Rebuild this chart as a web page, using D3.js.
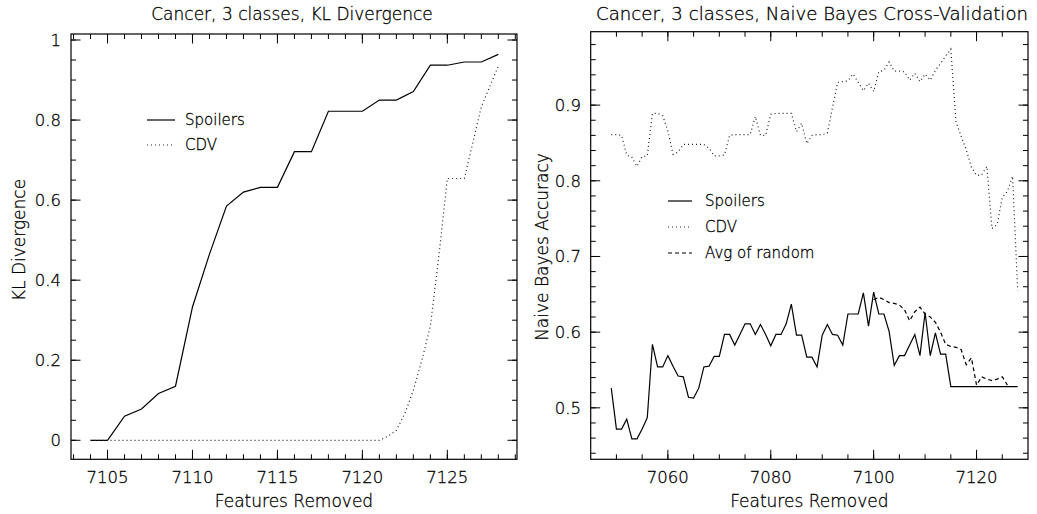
<!DOCTYPE html>
<html>
<head>
<meta charset="utf-8">
<script src="https://cdn.jsdelivr.net/npm/d3@7"></script>
<style>
  html, body { margin: 0; padding: 0; background: #fff; }
  svg { display: block; font-family: "DejaVu Sans", sans-serif; font-weight: 200; }
  svg text { fill: #000; stroke: #000; stroke-width: 0.3px; }
</style>
</head>
<body>
<svg id="chart" width="1037" height="514"></svg>
<script>
// ---------------- Data: left panel (KL Divergence) ----------------
const klSpoilersX = [7104,7105,7106,7107,7108,7109,7110,7111,7112,7113,7114,7115,7116,7117,7118,7119,7120,7121,7122,7123,7124,7125,7126,7127,7128];
const klSpoilersY = [0,0,0.06,0.078,0.117,0.135,0.333,0.465,0.585,0.62,0.632,0.632,0.721,0.721,0.822,0.822,0.822,0.85,0.85,0.871,0.937,0.937,0.945,0.945,0.964];
const klCdvX = [7104,7105,7106,7107,7108,7109,7110,7111,7112,7113,7114,7115,7116,7117,7118,7119,7120,7121,7121.5,7122,7122.5,7123,7123.5,7124,7124.5,7125,7126,7127,7128];
const klCdvY = [0,0,0,0,0,0,0,0,0,0,0,0,0,0,0,0,0,0,0.01,0.025,0.067,0.125,0.2,0.285,0.46,0.654,0.654,0.833,0.935];

// ---------------- Data: right panel (Naive Bayes) ----------------
const nbX = d3.range(7049, 7129); // 7049 .. 7128, one per feature count
const nbSpoilers = [0.526,0.472,0.472,0.485,0.459,0.459,0.472,0.487,0.584,0.554,
  0.554,0.569,0.555,0.542,0.541,0.514,0.513,0.526,0.554,0.555,
  0.568,0.568,0.597,0.597,0.583,0.597,0.611,0.611,0.597,0.61,
  0.597,0.582,0.597,0.597,0.611,0.637,0.596,0.596,0.567,0.567,
  0.554,0.596,0.61,0.597,0.596,0.583,0.624,0.624,0.624,0.652,
  0.608,0.653,0.624,0.624,0.601,0.556,0.569,0.569,0.583,0.597,
  0.569,0.626,0.569,0.599,0.571,0.571,0.528,0.528,0.528,0.528,
  0.528,0.528,0.528,0.528,0.528,0.528,0.528,0.528,0.528,0.528];
const nbCdv = [0.861,0.861,0.860,0.834,0.831,0.819,0.832,0.833,0.889,0.889,
  0.886,0.866,0.835,0.838,0.848,0.848,0.848,0.848,0.848,0.843,
  0.833,0.833,0.834,0.860,0.861,0.861,0.861,0.861,0.885,0.860,
  0.860,0.888,0.889,0.889,0.889,0.889,0.865,0.876,0.849,0.860,
  0.861,0.861,0.863,0.897,0.930,0.931,0.932,0.941,0.930,0.919,
  0.929,0.918,0.944,0.946,0.957,0.945,0.945,0.944,0.933,0.942,
  0.931,0.941,0.933,0.946,0.955,0.965,0.974,0.878,0.859,0.841,
  0.818,0.807,0.808,0.819,0.737,0.742,0.778,0.786,0.806,0.655];
const nbRandomX = d3.range(7100, 7127); // 7100 .. 7126
const nbRandom = [0.643,0.646,0.643,0.639,0.638,0.636,0.6295,0.615,0.627,0.633,
  0.624,0.620,0.613,0.600,0.584,0.581,0.580,0.577,0.557,0.566,
  0.530,0.541,0.538,0.536,0.538,0.541,0.530];

// ---------------- Ticks ----------------
const klXMajor = [7105,7110,7115,7120,7125];
const klXMinor = d3.range(7103, 7130);
const klYMajor = [0,0.2,0.4,0.6,0.8,1];
const klYMinor = d3.range(0, 21).map(i => i * 0.05);
const nbXMajor = [7060,7080,7100,7120];
const nbXMinor = d3.range(7050, 7130, 5);
const nbYMajor = [0.5,0.6,0.7,0.8,0.9];
const nbYMinor = d3.range(22, 50).map(i => i * 0.02);

// ---------------- Text ----------------
const titles = ["Cancer, 3 classes, KL Divergence", "Cancer, 3 classes, Naive Bayes Cross-Validation"];
const yTitles = ["KL Divergence", "Naive Bayes Accuracy"];
const xTitle = "Features Removed";
const legendLeft = ["Spoilers", "CDV"];
const legendRight = ["Spoilers", "CDV", "Avg of random"];

const svg = d3.select("#chart");
svg.append("rect").attr("width", 1037).attr("height", 514).attr("fill", "#fff");

const STYLE = {
  solid: { dash: null, w: 1.2, color: "#000" },
  dotted: { dash: "1,3", w: 1.2, color: "#222" },
  dashed: { dash: "4,3", w: 1.2, color: "#000" }
};

function panel(cfg) {
  const x = d3.scaleLinear().domain(cfg.xDomain).range([cfg.box.x0, cfg.box.x1]);
  const y = d3.scaleLinear().domain(cfg.yDomain).range([cfg.box.y1, cfg.box.y0]);
  const g = svg.append("g");
  const b = cfg.box;

  // frame
  g.append("rect").attr("x", b.x0).attr("y", b.y0)
    .attr("width", b.x1 - b.x0).attr("height", b.y1 - b.y0)
    .attr("fill", "none").attr("stroke", "#000").attr("stroke-width", 1.2);

  const inX = v => v > cfg.xDomain[0] + 1e-6 && v < cfg.xDomain[1] - 1e-6;
  const inY = v => v > cfg.yDomain[0] + 1e-6 && v < cfg.yDomain[1] - 1e-6;
  const ticks = g.append("g").attr("stroke", "#000").attr("stroke-width", 1);
  function xt(vals, len) {
    vals.filter(inX).forEach(v => {
      ticks.append("line").attr("x1", x(v)).attr("x2", x(v)).attr("y1", b.y1).attr("y2", b.y1 - len);
      ticks.append("line").attr("x1", x(v)).attr("x2", x(v)).attr("y1", b.y0).attr("y2", b.y0 + len);
    });
  }
  function yt(vals, len) {
    vals.filter(inY).forEach(v => {
      ticks.append("line").attr("y1", y(v)).attr("y2", y(v)).attr("x1", b.x0).attr("x2", b.x0 + len);
      ticks.append("line").attr("y1", y(v)).attr("y2", y(v)).attr("x1", b.x1).attr("x2", b.x1 - len);
    });
  }
  xt(cfg.xMinor, 5); xt(cfg.xMajor, 9.5);
  yt(cfg.yMinor, 5); yt(cfg.yMajor, 9.5);

  // tick labels
  g.selectAll(".xl").data(cfg.xMajor).join("text")
    .attr("x", d => x(d)).attr("y", b.y1 + 24).attr("text-anchor", "middle")
    .attr("font-size", 16.5).text(d => d3.format("d")(d));
  g.selectAll(".yl").data(cfg.yMajor).join("text")
    .attr("x", cfg.yLabelX).attr("y", d => y(d)).attr("dy", "0.36em").attr("text-anchor", "end")
    .attr("font-size", 16.5).text(d => d3.format("~g")(d));

  // titles
  const t = g.append("text").attr("x", cfg.titleX).attr("y", 20).attr("text-anchor", "middle")
    .attr("font-size", 17).text(cfg.title);
  if (cfg.titleLen) t.attr("textLength", cfg.titleLen).attr("lengthAdjust", "spacingAndGlyphs");
  g.append("text").attr("x", (b.x0 + b.x1) / 2).attr("y", 507).attr("text-anchor", "middle")
    .attr("font-size", 17).text(xTitle);
  g.append("text").attr("transform", `translate(${cfg.yTitleX},${cfg.yTitleY}) rotate(-90)`)
    .attr("text-anchor", "middle").attr("font-size", 17).text(cfg.yTitle);

  // series
  const line = d3.line().x(d => x(d[0])).y(d => y(d[1]));
  cfg.series.forEach(s => {
    const st = STYLE[s.style];
    g.append("path").datum(d3.zip(s.x, s.y)).attr("d", line)
      .attr("fill", "none").attr("stroke", st.color).attr("stroke-width", st.w)
      .attr("stroke-dasharray", st.dash).attr("stroke-linejoin", "miter");
  });

  // legend
  cfg.legend.items.forEach((name, i) => {
    const st = STYLE[cfg.legend.styles[i]];
    const ly = cfg.legend.y0 + i * cfg.legend.dy;
    g.append("line").attr("x1", cfg.legend.x0).attr("x2", cfg.legend.x1).attr("y1", ly).attr("y2", ly)
      .attr("stroke", st.color).attr("stroke-width", st.w).attr("stroke-dasharray", st.dash);
    g.append("text").attr("x", cfg.legend.tx).attr("y", ly).attr("dy", "0.36em")
      .attr("font-size", 15).text(name);
  });
}

panel({
  box: { x0: 71, x1: 517, y0: 34, y1: 459.3 },
  xDomain: [7102.85, 7129.1], yDomain: [-0.0475, 1.015],
  xMajor: klXMajor, xMinor: klXMinor, yMajor: klYMajor, yMinor: klYMinor,
  yLabelX: 61, yTitleX: 25, yTitleY: 240,
  title: titles[0], titleX: 292, yTitle: yTitles[0],
  series: [
    { x: klSpoilersX, y: klSpoilersY, style: "solid" },
    { x: klCdvX, y: klCdvY, style: "dotted" }
  ],
  legend: { items: legendLeft, styles: ["solid", "dotted"], x0: 147, x1: 175, tx: 185, y0: 120, dy: 25 }
});

panel({
  box: { x0: 590.7, x1: 1028, y0: 31.7, y1: 459.3 },
  xDomain: [7045, 7130], yDomain: [0.432, 0.997],
  xMajor: nbXMajor, xMinor: nbXMinor, yMajor: nbYMajor, yMinor: nbYMinor,
  yLabelX: 581, yTitleX: 548, yTitleY: 247,
  title: titles[1], titleX: 812, titleLen: 432, yTitle: yTitles[1],
  series: [
    { x: nbX, y: nbSpoilers, style: "solid" },
    { x: nbX, y: nbCdv, style: "dotted" },
    { x: nbRandomX, y: nbRandom, style: "dashed" }
  ],
  legend: { items: legendRight, styles: ["solid", "dotted", "dashed"], x0: 668, x1: 692, tx: 705, y0: 201, dy: 26 }
});
</script>
</body>
</html>
